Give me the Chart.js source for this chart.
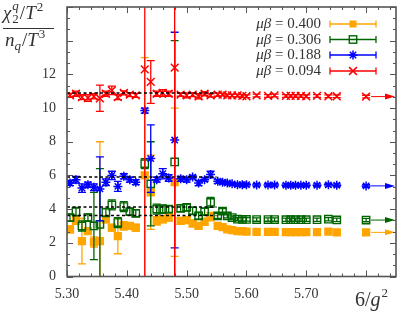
<!DOCTYPE html>
<html>
<head>
<meta charset="utf-8">
<script src="https://cdn.jsdelivr.net/npm/chart.js@4.4.1/dist/chart.umd.min.js"></script>
<style>
  html, body { margin: 0; padding: 0; background: #fff; }
  #wrap { width: 403px; height: 315px; }
</style>
</head>
<body>
<div id="wrap"><canvas id="chart" width="403" height="315"></canvas></div>
<script>
// 6/g^2 values, shared by the four runs
const couplings = [5.305, 5.315, 5.325, 5.335, 5.345, 5.355, 5.365, 5.375, 5.385, 5.395, 5.405, 5.415,
  5.43, 5.44, 5.45, 5.46, 5.47, 5.48, 5.49, 5.50, 5.51, 5.52, 5.53, 5.54,
  5.552, 5.56, 5.568, 5.576, 5.585, 5.593, 5.60, 5.617, 5.636, 5.647, 5.666, 5.674, 5.682, 5.691, 5.70,
  5.718, 5.737, 5.751, 5.80];

// mu*beta = 0.400
const ratio400 = [2.8, 3.35, 2.1, 2.7, 2.05, 2.1, 3.4, 2.9, 2.4, 3.0, 3.0, 2.9,
  6.0, 5.0, 3.3, 3.4, 3.5, 5.6, 3.3, 3.35, 3.15, 3.0, 3.25, 3.55,
  3.0, 2.93, 2.8, 2.75, 2.7, 2.7, 2.67, 2.65, 2.65, 2.65, 2.64, 2.64, 2.64, 2.64, 2.64,
  2.63, 2.66, 2.62, 2.62];
const err400 = [0.2, 0.25, 1.35, 0.2, 0.3, 5.9, 0.2, 0.2, 1.05, 0.25, 0.2, 0.2,
  7.0, 2.2, 0.25, 0.2, 0.2, 4.4, 0.2, 0.2, 0.2, 0.2, 0.2, 0.25,
  0.15, 0.12, 0.1, 0.1, 0.1, 0.1, 0.1, 0.1, 0.1, 0.1, 0.1, 0.1, 0.1, 0.1, 0.1,
  0.1, 0.1, 0.1, 0.1];

// mu*beta = 0.306
const ratio306 = [3.5, 3.85, 3.0, 3.5, 3.0, 3.1, 3.8, 4.25, 3.2, 4.15, 3.85, 3.75,
  6.7, 5.5, 4.0, 4.0, 4.0, 6.8, 4.05, 4.1, 3.9, 3.6, 3.85, 4.4,
  3.6, 3.88, 3.6, 3.5, 3.4, 3.39, 3.39, 3.38, 3.38, 3.38, 3.37, 3.37, 3.37, 3.37, 3.37,
  3.37, 3.4, 3.36, 3.35];
const err306 = [0.2, 0.25, 0.3, 0.2, 2.0, 3.3, 0.25, 0.3, 0.3, 0.3, 0.2, 0.2,
  0.3, 2.5, 0.3, 0.25, 0.2, 7.2, 0.2, 0.2, 0.2, 0.2, 0.2, 0.3,
  0.15, 0.15, 0.12, 0.1, 0.1, 0.1, 0.1, 0.1, 0.1, 0.1, 0.1, 0.1, 0.1, 0.1, 0.1,
  0.1, 0.1, 0.1, 0.1];

// mu*beta = 0.188
const ratio188 = [5.55, 5.75, 5.25, 5.45, 5.3, 5.2, 5.6, 6.0, 5.35, 5.95, 5.75, 5.6,
  9.85, 7.0, 5.75, 6.1, 5.85, 8.1, 5.8, 5.75, 5.9, 5.55, 5.75, 6.05,
  5.65, 5.6, 5.55, 5.5, 5.45, 5.45, 5.45, 5.43, 5.43, 5.43, 5.42, 5.42, 5.42, 5.42, 5.42,
  5.42, 5.44, 5.42, 5.38];
const err188 = [0.15, 0.2, 0.25, 0.15, 0.2, 1.9, 0.2, 0.25, 0.3, 0.15, 0.15, 0.15,
  0.15, 2.0, 0.15, 0.3, 0.2, 6.4, 0.15, 0.15, 0.1, 0.15, 0.1, 0.2,
  0.12, 0.1, 0.1, 0.08, 0.08, 0.08, 0.08, 0.08, 0.08, 0.08, 0.08, 0.08, 0.08, 0.08, 0.08,
  0.08, 0.08, 0.08, 0.08];

// mu*beta = 0.094
const ratio094 = [10.75, 10.85, 10.65, 10.6, 10.7, 10.58, 10.85, 11.05, 10.65, 10.9, 10.8, 10.75,
  12.3, 11.55, 10.85, 10.9, 10.85, 12.4, 10.8, 10.75, 10.8, 10.7, 10.85, 10.75,
  10.8, 10.8, 10.75, 10.75, 10.75, 10.72, 10.7, 10.75, 10.72, 10.75, 10.72, 10.72, 10.72, 10.72, 10.7,
  10.72, 10.7, 10.7, 10.68];
const err094 = [0.12, 0.15, 0.15, 0.2, 0.15, 0.78, 0.15, 0.25, 0.15, 0.12, 0.12, 0.12,
  20, 1.27, 0.15, 0.2, 0.15, 20, 0.1, 0.15, 0.12, 0.15, 0.12, 0.1,
  0.1, 0.08, 0.08, 0.08, 0.08, 0.08, 0.08, 0.08, 0.08, 0.08, 0.08, 0.08, 0.08, 0.08, 0.08,
  0.08, 0.08, 0.08, 0.08];

const muLabels = ['0.400', '0.306', '0.188', '0.094'];
const seriesColors = ['#ffa500', '#006400', '#0000ff', '#ff0000'];
const markerStyles = ['rect', 'rectOpen', 'star', 'crossRot'];

// dashed plateau fits
const plateauLevels = [10.9, 5.9, 4.13, 3.62];
const plateauRange = [5.30, 5.55];

const xTickValues = [5.30, 5.40, 5.50, 5.60, 5.70];
const yTickValues = [0, 2, 4, 6, 8, 10, 12];

const SERIF = '"Liberation Serif", "DejaVu Serif", serif';
const X_MIN = 5.30, X_MAX = 5.85, Y_MIN = 0, Y_MAX = 16;

function toPoints(ys, es) {
    return couplings.map((x, i) => ({ x: x, y: ys[i], e: es[i] }));
}

const seriesValues = [[ratio400, err400], [ratio306, err306], [ratio188, err188], [ratio094, err094]];

const datasets = seriesValues.map(([ys, es], i) => {
    const style = markerStyles[i];
    const open = style === 'rectOpen';
    return {
        label: 'μβ = ' + muLabels[i],
        data: toPoints(ys, es),
        errorBars: true,
        arrow: true,
        order: 4 - i,
        borderColor: seriesColors[i],
        backgroundColor: open ? 'rgba(255,255,255,0)' : seriesColors[i],
        pointStyle: open ? 'rect' : style,
        pointRadius: style === 'rect' ? 4.8 : (open ? 5.2 : (style === 'star' ? 4.5 : 5.5)),
        pointBorderWidth: open ? 1.4 : 1.5,
        showLine: false
    };
});

plateauLevels.forEach(level => {
    datasets.push({
        data: [{ x: plateauRange[0], y: level }, { x: plateauRange[1], y: level }],
        showLine: true,
        borderColor: '#000',
        borderWidth: 1.5,
        borderDash: [3, 2.5],
        pointRadius: 0,
        order: 0
    });
});

function clipArea(ctx, a) {
    ctx.beginPath();
    ctx.rect(a.left, a.top, a.right - a.left, a.bottom - a.top);
    ctx.clip();
}

const errorBars = {
    id: 'errorBars',
    beforeDatasetDraw(chart, args) {
        const ds = chart.data.datasets[args.index];
        if (!ds.errorBars) return;
        const { ctx, chartArea: a, scales: { x, y } } = chart;
        ctx.save();
        clipArea(ctx, a);
        ctx.strokeStyle = ds.borderColor;
        ctx.lineWidth = 1.3;
        ds.data.forEach(p => {
            const px = x.getPixelForValue(p.x);
            const top = y.getPixelForValue(p.y + p.e);
            const bot = y.getPixelForValue(p.y - p.e);
            ctx.beginPath();
            ctx.moveTo(px, top); ctx.lineTo(px, bot);
            ctx.moveTo(px - 4, top); ctx.lineTo(px + 4, top);
            ctx.moveTo(px - 4, bot); ctx.lineTo(px + 4, bot);
            ctx.stroke();
        });
        ctx.restore();
    }
};

// arrow from the last point of each run to the right edge
const arrows = {
    id: 'arrows',
    afterDatasetsDraw(chart) {
        const { ctx, scales: { x, y } } = chart;
        ctx.save();
        chart.data.datasets.forEach(ds => {
            if (!ds.arrow) return;
            const last = ds.data[ds.data.length - 1];
            const x0 = x.getPixelForValue(last.x) + 5;
            const x1 = x.getPixelForValue(X_MAX) - 1;
            const py = y.getPixelForValue(last.y);
            ctx.strokeStyle = ds.borderColor;
            ctx.fillStyle = ds.borderColor;
            ctx.lineWidth = 1;
            ctx.beginPath();
            ctx.moveTo(x0, py); ctx.lineTo(x1 - 8, py);
            ctx.stroke();
            ctx.beginPath();
            ctx.moveTo(x1, py); ctx.lineTo(x1 - 10, py - 3); ctx.lineTo(x1 - 10, py + 3);
            ctx.closePath();
            ctx.fill();
        });
        ctx.restore();
    }
};

const frame = {
    id: 'frame',
    afterDraw(chart) {
        const { ctx, chartArea: a, scales: { x, y } } = chart;
        ctx.save();
        ctx.strokeStyle = '#555';
        ctx.lineWidth = 1;
        ctx.beginPath();
        for (let k = 0; k <= 27; k++) {
            const px = Math.round(x.getPixelForValue(X_MIN + k * 0.02)) + 0.5;
            const len = k % 5 === 0 ? 6 : 3;
            ctx.moveTo(px, a.bottom); ctx.lineTo(px, a.bottom - len);
            ctx.moveTo(px, a.top); ctx.lineTo(px, a.top + len);
        }
        for (let k = 0; k <= 24; k++) {
            const py = Math.round(y.getPixelForValue(k * 2 / 3)) + 0.5;
            const len = k % 3 === 0 ? 6 : 3;
            ctx.moveTo(a.left, py); ctx.lineTo(a.left + len, py);
            ctx.moveTo(a.right, py); ctx.lineTo(a.right - len, py);
        }
        ctx.stroke();
        ctx.lineWidth = 1.6;
        ctx.strokeRect(a.left, a.top, a.right - a.left, a.bottom - a.top);
        ctx.restore();
    }
};

function drawMarker(ctx, style, color, cx, cy) {
    ctx.strokeStyle = color;
    ctx.fillStyle = color;
    ctx.lineWidth = 1.5;
    ctx.beginPath();
    if (style === 'rect') {
        ctx.fillRect(cx - 3.5, cy - 3.5, 7, 7);
    } else if (style === 'rectOpen') {
        ctx.lineWidth = 1.4;
        ctx.strokeRect(cx - 3.7, cy - 3.7, 7.4, 7.4);
    } else if (style === 'star') {
        const r = 4.5, d = r * Math.SQRT1_2;
        ctx.moveTo(cx - r, cy); ctx.lineTo(cx + r, cy);
        ctx.moveTo(cx, cy - r); ctx.lineTo(cx, cy + r);
        ctx.moveTo(cx - d, cy - d); ctx.lineTo(cx + d, cy + d);
        ctx.moveTo(cx - d, cy + d); ctx.lineTo(cx + d, cy - d);
        ctx.stroke();
    } else {
        const d = 3.9;
        ctx.moveTo(cx - d, cy - d); ctx.lineTo(cx + d, cy + d);
        ctx.moveTo(cx - d, cy + d); ctx.lineTo(cx + d, cy - d);
        ctx.stroke();
    }
}

const legendBox = {
    id: 'legendBox',
    afterDraw(chart) {
        const ctx = chart.ctx;
        const rows = [24, 39.5, 55, 71];
        ctx.save();
        ctx.textBaseline = 'middle';
        rows.forEach((ry, i) => {
            ctx.fillStyle = '#333';
            ctx.font = '15px ' + SERIF;
            ctx.textAlign = 'right';
            const rest = ' = ' + muLabels[i];
            ctx.fillText(rest, 321, ry + 0.5);
            const w = ctx.measureText(rest).width;
            ctx.font = 'italic 15px ' + SERIF;
            ctx.fillText('μβ', 321 - w, ry + 0.5);
            // error bar sample
            ctx.strokeStyle = seriesColors[i];
            ctx.lineWidth = 1.3;
            ctx.beginPath();
            ctx.moveTo(330, ry); ctx.lineTo(376, ry);
            ctx.moveTo(330, ry - 3.5); ctx.lineTo(330, ry + 3.5);
            ctx.moveTo(376, ry - 3.5); ctx.lineTo(376, ry + 3.5);
            ctx.stroke();
            drawMarker(ctx, markerStyles[i], seriesColors[i], 353, ry);
        });
        ctx.restore();
    }
};

// text runs: [text, font, dx, dy, noAdvance]
function drawRuns(ctx, x0, base, runs) {
    let x = x0;
    runs.forEach(r => {
        ctx.font = r[1];
        ctx.fillText(r[0], x + (r[2] || 0), base + (r[3] || 0));
        if (!r[4]) x += ctx.measureText(r[0]).width + (r[2] || 0);
    });
}

const axisTitles = {
    id: 'axisTitles',
    afterDraw(chart) {
        const ctx = chart.ctx;
        const big = 'italic 19px ' + SERIF, bigUp = '19px ' + SERIF;
        const small = '13px ' + SERIF, smallIt = 'italic 13px ' + SERIF;
        ctx.save();
        ctx.fillStyle = '#333';
        ctx.textAlign = 'left';
        ctx.textBaseline = 'alphabetic';
        // numerator: chi_2^q / T^2
        drawRuns(ctx, 3, 19, [
            ['χ', big],
            ['q', smallIt, 1, -9, true],
            ['2', small, 1, 4],
            ['/', bigUp, 1],
            ['T', big],
            ['2', small, 1, -8]
        ]);
        ctx.strokeStyle = '#333';
        ctx.lineWidth = 1;
        ctx.beginPath();
        ctx.moveTo(3, 28.5); ctx.lineTo(54, 28.5);
        ctx.stroke();
        // denominator: n_q / T^3
        drawRuns(ctx, 5, 46, [
            ['n', big],
            ['q', smallIt, 0, 4],
            ['/', bigUp, 1],
            ['T', big],
            ['3', small, 1, -8]
        ]);
        // x title: 6/g^2
        drawRuns(ctx, 355, 306, [
            ['6/', '20px ' + SERIF],
            ['g', 'italic 20px ' + SERIF],
            ['2', '13px ' + SERIF, 1, -9]
        ]);
        ctx.restore();
    }
};

new Chart(document.getElementById('chart'), {
    type: 'scatter',
    data: { datasets: datasets },
    options: {
        responsive: false,
        animation: false,
        layout: { padding: { top: 2, right: 1, left: 0, bottom: 0 } },
        plugins: { legend: { display: false }, tooltip: { enabled: false } },
        scales: {
            x: {
                type: 'linear',
                min: X_MIN,
                max: X_MAX,
                grid: { display: false, drawTicks: false },
                border: { display: false },
                afterBuildTicks: s => { s.ticks = xTickValues.map(v => ({ value: v })); },
                afterFit: s => { s.height = 38.5; s.paddingLeft = 0; s.paddingRight = 0; },
                ticks: {
                    padding: 9,
                    color: '#333',
                    maxRotation: 0,
                    autoSkip: false,
                    font: { family: SERIF, size: 14 },
                    callback: v => Number(v).toFixed(2)
                }
            },
            y: {
                type: 'linear',
                min: Y_MIN,
                max: Y_MAX,
                grid: { display: false, drawTicks: false },
                border: { display: false },
                afterBuildTicks: s => { s.ticks = yTickValues.map(v => ({ value: v })); },
                afterFit: s => { s.width = 67; s.paddingTop = 0; s.paddingBottom = 0; },
                ticks: {
                    padding: 11,
                    color: '#333',
                    autoSkip: false,
                    font: { family: SERIF, size: 14 },
                    callback: v => String(v)
                }
            }
        }
    },
    plugins: [errorBars, arrows, frame, legendBox, axisTitles]
});
</script>
</body>
</html>
